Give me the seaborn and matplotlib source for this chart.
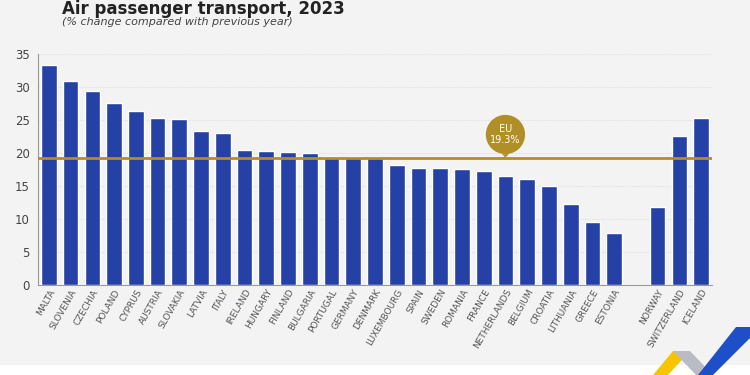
import pandas as pd
import seaborn as sns
import matplotlib.pyplot as plt
from matplotlib.patches import Polygon, Rectangle

# data
countries = ["MALTA", "SLOVENIA", "CZECHIA", "POLAND", "CYPRUS", "AUSTRIA", "SLOVAKIA",
             "LATVIA", "ITALY", "IRELAND", "HUNGARY", "FINLAND", "BULGARIA", "PORTUGAL",
             "GERMANY", "DENMARK", "LUXEMBOURG", "SPAIN", "SWEDEN", "ROMANIA", "FRANCE",
             "NETHERLANDS", "BELGIUM", "CROATIA", "LITHUANIA", "GREECE", "ESTONIA"]
change = [33.3, 30.9, 29.4, 27.6, 26.4, 25.3, 25.2, 23.3, 23.0, 20.5, 20.3, 20.2, 20.0,
          19.4, 19.4, 19.2, 18.2, 17.7, 17.7, 17.6, 17.3, 16.5, 16.1, 15.0, 12.3, 9.6, 7.9]
efta = ["NORWAY", "SWITZERLAND", "ICELAND"]
efta_change = [11.8, 22.6, 25.3]
eu_avg = 19.3
yticks = [0, 5, 10, 15, 20, 25, 30, 35]

df = pd.DataFrame({"country": countries + efta, "change": change + efta_change})
order = countries + [" "] + efta

sns.set_theme(style="white")
plt.rcParams["font.family"] = ["Liberation Sans Narrow", "DejaVu Sans"]

bg = "#f3f3f3"
fig = plt.figure(figsize=(7.5, 3.75), dpi=100, facecolor=bg)
ax = fig.add_axes([38 / 750, 1 - 285 / 375, 674 / 750, 231 / 375])
ax.set_facecolor(bg)

sns.barplot(data=df, x="country", y="change", order=order, color="#2541a6",
            saturation=1, width=0.72, ax=ax, zorder=3)

ax.set_ylim(0, 35)
ax.set_xlim(-0.5, len(order) - 0.5)
ax.set_yticks(yticks)
ax.set_xlabel("")
ax.set_ylabel("")
ax.yaxis.grid(True, color="#e0e0e0", linestyle=(0, (1, 1)), linewidth=0.8, zorder=0)
for side in ["top", "right"]:
    ax.spines[side].set_visible(False)
for side in ["left", "bottom"]:
    ax.spines[side].set_color("#9a9a9a")
    ax.spines[side].set_linewidth(0.8)

ax.tick_params(axis="y", length=0, labelsize=8.5, labelcolor="#444444", pad=6)
ax.tick_params(axis="x", length=0, labelsize=6.5, labelcolor="#555555", pad=2)
plt.setp(ax.get_xticklabels(), rotation=60, ha="right", rotation_mode="anchor")

# small separators between bars
sep = [i + 0.5 for i in range(len(countries))] + [len(countries) + 1.5, len(countries) + 2.5,
                                                    len(countries) + 3.5]
ax.set_xticks(sep, minor=True)
ax.tick_params(axis="x", which="minor", length=4, direction="in", color="#9a9a9a", width=0.8)

# EU average line and bubble
ax.axhline(eu_avg, color="#b08f26", linewidth=2, zorder=4)
ax.annotate("EU\n19.3%", xy=(21, eu_avg), xytext=(21, 22.8), ha="center", va="center",
            fontsize=7, color="white", linespacing=1.2,
            bbox=dict(boxstyle="circle,pad=0.45", fc="#b08f26", ec="none"),
            arrowprops=dict(arrowstyle="wedge,tail_width=0.7", fc="#b08f26", ec="none",
                            shrinkA=0, shrinkB=0),
            zorder=5)

fig.text(62 / 750, 0.999, "Air passenger transport, 2023", fontsize=12, fontweight="bold",
         color="#222222", va="top", ha="left")
fig.text(62 / 750, 1 - 22 / 375, "(% change compared with previous year)", fontsize=8,
         style="italic", color="#444444", va="center", ha="left")

# white band and logo at the bottom
fig.patches.append(Rectangle((0, 0), 1, 10 / 375, transform=fig.transFigure,
                             fc="white", ec="none"))

def px(points):
    return [(x / 750, 1 - y / 375) for x, y in points]

logo = [
    ([(653, 375), (668, 375), (690, 351), (673, 351)], "#f6c500"),
    ([(673, 351), (690, 351), (713, 375), (696, 375)], "#b9bcc2"),
    ([(698, 375), (713, 375), (750, 338), (750, 327), (736, 327)], "#1f4fc8"),
]
for pts, col in logo:
    fig.patches.append(Polygon(px(pts), closed=True, transform=fig.transFigure,
                               fc=col, ec="none"))

fig.savefig("out.png", dpi=100, facecolor=bg)
